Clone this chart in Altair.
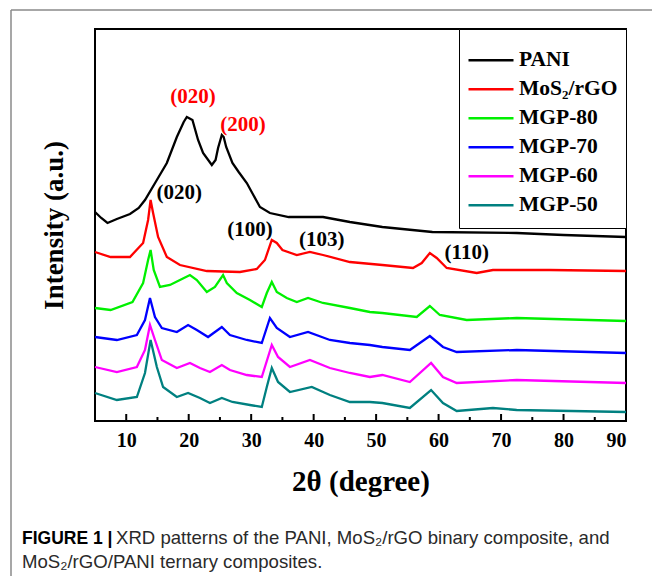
import altair as alt
import pandas as pd

# ---------------- data ----------------
series_names = ["PANI", "MoS₂/rGO", "MGP-80", "MGP-70", "MGP-60", "MGP-50"]
series_colors = ["#000000", "#FF0000", "#00F000", "#0000FF", "#FF00FF", "#008080"]

pani_x = [5, 6, 7, 8.5, 10.6, 12, 13, 14.9, 16.5, 18.1, 19.2, 19.7, 20.6, 21.5, 22.3, 23.7,
          24.3, 24.7, 25.3, 25.6, 26, 27, 28, 29.3, 31.4, 33, 36, 41.5, 45.8, 51, 59, 72.5, 80, 90]
pani_y = [209, 203, 198, 202, 207, 213, 221, 241, 258, 284, 299, 304, 301, 281, 268, 256,
          261, 273, 286, 284, 274, 258, 249, 238, 214, 208, 204, 204, 199, 194, 189, 188, 186, 184]

mos2_x = [5, 7.5, 10.6, 12.7, 13.5, 13.9, 14.3, 15.1, 16.5, 18.6, 22.9, 28.2, 30.9, 32.2, 33.3,
          34.1, 35, 37.3, 39.4, 41.5, 45.8, 51, 55.9, 57.3, 58.6, 59.7, 61.3, 66.1, 68.7, 77.8, 90]
mos2_y = [169, 164, 164, 178, 201, 221, 208, 184, 164, 156, 150, 149, 152, 161, 181,
          178, 171, 166, 169, 166, 159, 156, 153, 158, 168, 163, 153, 148, 151, 151, 150]

mgp80_x = [5, 7.5, 11, 12.7, 13.5, 13.9, 14.4, 15.4, 17, 18.6, 20.2, 21.3, 22.9, 24.2, 25.5, 26.1,
           27.7, 29.8, 31.7, 32.5, 33.3, 34.1, 35.7, 37.3, 39.1, 41.5, 45.8, 49, 51, 56.5, 58.6,
           60.2, 64.5, 72.5, 90]
mgp80_y = [113, 111, 119, 138, 161, 171, 151, 134, 136, 141, 146, 141, 129, 134, 146, 138,
           128, 121, 114, 128, 139, 129, 123, 119, 123, 118, 113, 109, 108, 104, 115,
           106, 101, 103, 100]

mgp70_x = [5, 8.5, 11.7, 13, 13.8, 14.6, 15.7, 18.1, 19.9, 21.3, 23.1, 25.3, 26.6, 29.3, 31.7,
           33, 34.1, 36.2, 39.1, 42.6, 45.8, 49, 51, 55.4, 58.6, 60.7, 62.9, 72.5, 90]
mgp70_y = [84, 81, 86, 101, 123, 104, 93, 89, 96, 91, 84, 94, 86, 81, 78,
           103, 93, 84, 89, 81, 78, 76, 74, 71, 85, 74, 69, 71, 68]

mgp60_x = [5, 8.5, 11.7, 13, 13.8, 14.6, 15.7, 18.1, 20.2, 21.8, 23.4, 25.3, 26.6, 29.3, 31.7,
           33.3, 34.3, 36.2, 39.4, 42.6, 45.8, 49, 51, 55.4, 58.8, 60.7, 62.9, 72.5, 90]
mgp60_y = [54, 49, 54, 71, 96, 81, 61, 53, 58, 53, 49, 56, 51, 46, 44,
           76, 64, 54, 61, 53, 48, 44, 46, 39, 58, 44, 38, 41, 38]

mgp50_x = [5, 8.5, 11.7, 13, 13.9, 14.9, 15.9, 18.1, 19.9, 21.8, 23.4, 25.3, 27, 29.8, 31.7,
           32.5, 33.3, 34.3, 36.2, 39.7, 42.6, 45.8, 49, 51, 55.4, 58.8, 60.7, 62.9, 68.7, 72.5, 90]
mgp50_y = [28, 21, 24, 48, 81, 54, 34, 24, 28, 23, 18, 23, 19, 16, 14,
           34, 53, 39, 29, 34, 26, 19, 19, 18, 13, 31, 18, 10, 13, 11, 9]

peak_labels = ["(020)", "(200)", "(020)", "(100)", "(103)", "(110)"]
peak_x = [20.7, 28.7, 18.5, 29.8, 41.3, 64.5]
peak_y = [324, 296, 228, 191, 181, 168]
peak_colors = ["#FF0000", "#FF0000", "#000000", "#000000", "#000000", "#000000"]

x_tick_values = [10, 20, 30, 40, 50, 60, 70, 80, 90]
x_minor_ticks = [15, 25, 35, 45, 55, 65, 75, 85]

# ---------------- build tables ----------------
all_x = [pani_x, mos2_x, mgp80_x, mgp70_x, mgp60_x, mgp50_x]
all_y = [pani_y, mos2_y, mgp80_y, mgp70_y, mgp60_y, mgp50_y]
rows = []
for name, xs, ys in zip(series_names, all_x, all_y):
    for i, (xv, yv) in enumerate(zip(xs, ys)):
        rows.append({"series": name, "x": xv, "y": yv, "order": i})
df = pd.DataFrame(rows)

ann = pd.DataFrame({"label": peak_labels, "x": peak_x, "y": peak_y, "color": peak_colors})
major = pd.DataFrame({"x": x_tick_values})
minor = pd.DataFrame({"x": x_minor_ticks})
one = pd.DataFrame({"a": [0]})

W, H = 531, 392
SERIF = "Liberation Serif"
SANS = "Liberation Sans"

xscale = alt.Scale(domain=[5, 90], nice=False, zero=False)
yscale = alt.Scale(domain=[0, 392], nice=False, zero=False)

lines = alt.Chart(df).mark_line(strokeWidth=2.3).encode(
    x=alt.X("x:Q", scale=xscale,
            axis=alt.Axis(title="2θ (degree)", values=x_tick_values, ticks=False, domain=False,
                          grid=False, labelFont=SERIF, labelFontSize=20, labelFontWeight="bold",
                          labelColor="black", labelPadding=9, titleFont=SERIF, titleFontSize=29,
                          titleFontWeight="bold", titleColor="black", titlePadding=17)),
    y=alt.Y("y:Q", scale=yscale,
            axis=alt.Axis(title="Intensity (a.u.)", labels=False, ticks=False, domain=False,
                          grid=False, titleFont=SERIF, titleFontSize=27, titleFontWeight="bold",
                          titleColor="black", titlePadding=27)),
    color=alt.Color("series:N", scale=alt.Scale(domain=series_names, range=series_colors),
                    legend=alt.Legend(title=" ", orient="top-right", offset=0)),
    order="order:Q",
)

labels = alt.Chart(ann).mark_text(font=SERIF, fontSize=21, fontWeight="bold").encode(
    x="x:Q", y="y:Q", text="label:N", color=alt.Color("color:N", scale=None)
)

maj = alt.Chart(major).mark_rule(color="black", strokeWidth=2).encode(
    x="x:Q", y=alt.value(H), y2=alt.value(H - 7))
mnr = alt.Chart(minor).mark_rule(color="black", strokeWidth=2).encode(
    x="x:Q", y=alt.value(H), y2=alt.value(H - 4))

frame_top = alt.Chart(one).mark_rule(color="#8a8a8a", strokeWidth=1.5).encode(
    x=alt.value(-84), x2=alt.value(560), y=alt.value(-19))
frame_left = alt.Chart(one).mark_rule(color="#8a8a8a", strokeWidth=1.5).encode(
    x=alt.value(-84), y=alt.value(-19), y2=alt.value(560))

cap1a = alt.Chart(one).mark_text(align="left", baseline="alphabetic", font=SANS, fontSize=17.5,
                                 fontWeight="bold", color="black").encode(
    x=alt.value(22 - 95), y=alt.value(544 - 29), text=alt.value("FIGURE 1 |"))
cap1b = alt.Chart(one).mark_text(align="left", baseline="alphabetic", font=SANS, fontSize=18.6,
                                 color="#2a2a2a").encode(
    x=alt.value(116 - 95), y=alt.value(544 - 29),
    text=alt.value("XRD patterns of the PANI, MoS₂/rGO binary composite, and"))
cap2 = alt.Chart(one).mark_text(align="left", baseline="alphabetic", font=SANS, fontSize=18.6,
                                color="#2a2a2a").encode(
    x=alt.value(22 - 95), y=alt.value(568 - 29),
    text=alt.value("MoS₂/rGO/PANI ternary composites."))

chart = alt.layer(lines, labels, maj, mnr, frame_top, frame_left, cap1a, cap1b, cap2).properties(
    width=W, height=H,
    autosize=alt.AutoSizeParams(type="none"),
    padding={"left": 87, "top": 21, "right": 26, "bottom": 155},
).configure_view(
    stroke="black", strokeWidth=2
).configure_legend(
    symbolType="stroke", symbolSize=2025, symbolStrokeWidth=2.5, clipHeight=28.5,
    labelFont=SERIF, labelFontSize=21.5, labelFontWeight="bold", labelColor="black",
    strokeColor="black", fillColor="white", padding=8, rowPadding=0, labelOffset=4,
    labelLimit=300, titleFontSize=1, titlePadding=8
)

chart.save("out.html", embed_options={"renderer": "svg", "actions": False})
